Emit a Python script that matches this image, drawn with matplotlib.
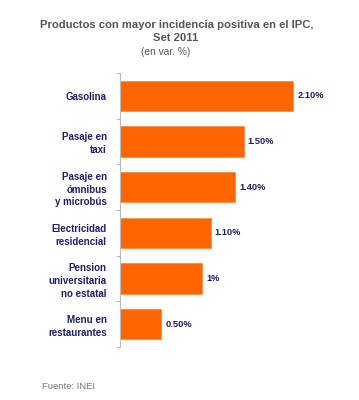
import matplotlib.pyplot as plt
import numpy as np

plt.rcParams['font.family'] = ['Liberation Sans', 'DejaVu Sans']

categories = ['Gasolina', 'Pasaje en\ntaxi', 'Pasaje en\nómnibus\ny microbús',
              'Electricidad\nresidencial', 'Pension\nuniversitaria\nno estatal',
              'Menu en\nrestaurantes']
values = [2.10, 1.50, 1.40, 1.10, 1.00, 0.50]
value_labels = ['2.10%', '1.50%', '1.40%', '1.10%', '1%', '0.50%']

fig = plt.figure(figsize=(3.59, 4.0), dpi=100)
ax = fig.add_axes([0.3343, 0.1325, 0.6128, 0.685])

y = np.arange(len(categories))
ax.barh(y, values, height=0.66, color='#FF6600', edgecolor='#FF8533', linewidth=0.5)
for yi, v, lab in zip(y, values, value_labels):
    ax.text(v + 0.05, yi, lab, va='center', ha='left', fontsize=6.7,
            fontweight='bold', color='#1F1F6B')

ax.set_ylim(len(categories) - 0.5, -0.5)
ax.set_xlim(0, 2.67)
ax.set_yticks(y)
ax.set_yticklabels(categories, fontsize=7, fontweight='bold', color='#1F1F6B',
                   linespacing=1.35)
ax.tick_params(axis='y', length=0, pad=9.5)
ax.set_yticks(np.arange(-0.5, len(categories)), minor=True)
ax.tick_params(axis='y', which='minor', length=3, color='#BBBBBB', width=0.8)
ax.set_xticks([])
for s in ['top', 'right', 'bottom']:
    ax.spines[s].set_visible(False)
ax.spines['left'].set_color('#BBBBBB')
ax.spines['left'].set_linewidth(0.8)

fig.text(0.493, 0.937, 'Productos con mayor incidencia positiva en el IPC,',
         ha='center', va='center', fontsize=8.1, fontweight='bold', color='#555555')
fig.text(0.49, 0.904, 'Set 2011', ha='center', va='center', fontsize=8.1,
         fontweight='bold', color='#555555')
fig.text(0.462, 0.87, '(en var. %)', ha='center', va='center', fontsize=7.3,
         color='#555555')
fig.text(0.118, 0.033, 'Fuente: INEI', ha='left', va='center', fontsize=6.8,
         color='#777777')

plt.savefig('out.png', dpi=100)
